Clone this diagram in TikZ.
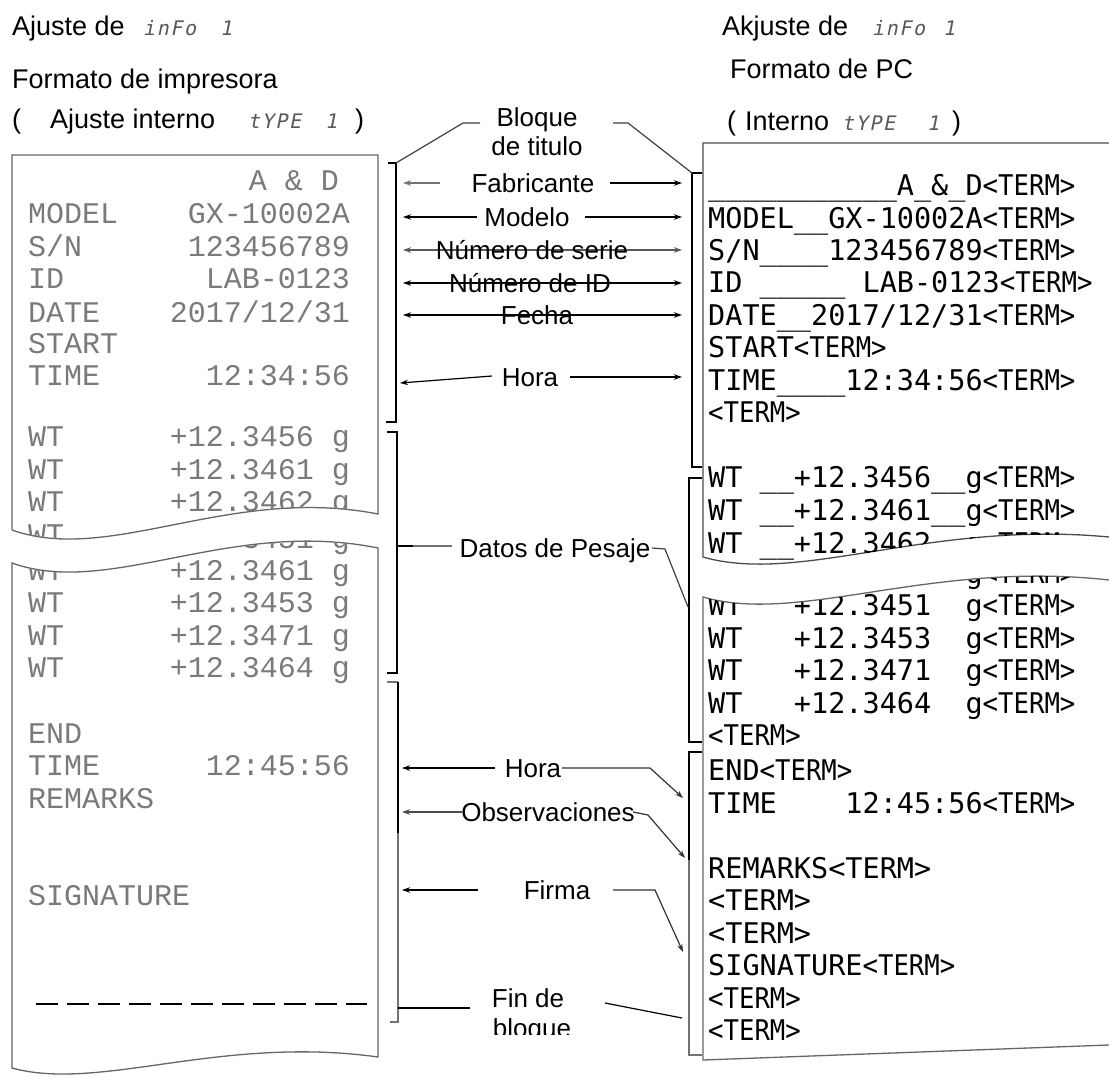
\documentclass[tikz,border=0pt]{standalone}
\usepackage{fontspec}
\usepackage{graphicx}
\setmainfont{Liberation Sans}
\newfontfamily\dotfont{Liberation Mono}
\newfontfamily\pcfont{DejaVu Sans Mono}
\newfontfamily\segfont[FakeSlant=0.2,LetterSpace=8]{DejaVu Sans Mono}
\usetikzlibrary{arrows.meta}
\newcommand{\trm}{\scalebox{0.9}[1]{<TERM>}}
\newcommand{\trmw}{<TERM>}
\tikzset{
 lbl/.style={font=\fontsize{26}{29}\selectfont, inner sep=0pt, anchor=base},
 hdr/.style={font=\fontsize{27}{30}\selectfont, inner sep=0pt, anchor=base west},
 seg/.style={font=\segfont\fontsize{20}{20}\selectfont, inner sep=0pt, anchor=base west, text=black!65},
 dm/.style={font=\dotfont\fontsize{30}{30}\selectfont, text=black!52, inner sep=0pt},
 dml/.style={dm, anchor=base west},
 dmr/.style={dm, anchor=base east},
 pc/.style={font=\pcfont\fontsize{28.5}{30}\selectfont, inner sep=0pt, anchor=base west},
 paper/.style={draw=black!60, line width=1.3pt},
 brk/.style={draw=black, line width=1.4pt},
 arr/.style={-{Stealth[length=8pt,width=5.5pt]}, line width=1.2pt},
 darr/.style={{Stealth[length=8pt,width=5.5pt]}-{Stealth[length=8pt,width=5.5pt]}, line width=1.2pt},
 lead/.style={line width=1.2pt},
}
\begin{document}
\begin{tikzpicture}[x=1pt,y=-1pt]
\useasboundingbox (0,0) rectangle (1109,1077);
\fill[white] (0,0) rectangle (1109,1077);

% ---------------- headers ----------------
\node[hdr] (h1) at (12,35) {Ajuste de};
\node[seg] (h1s) at (143,35) {inFo};
\node[seg] (h1n) at (220,35) {1};
\node[hdr] (h2) at (12,88) {Formato de impresora};
\node[hdr] (h3a) at (12,128) {(};
\node[hdr] (h3b) at (50,128) {Ajuste interno};
\node[seg] (h3c) at (248,128) {tYPE};
\node[seg] (h3d) at (325,128) {1};
\node[hdr] (h3e) at (355,128) {)};

\node[hdr] (r1) at (722,35) {Akjuste de};
\node[seg] (r1s) at (872,35) {inFo};
\node[seg] (r1n) at (943,35) {1};
\node[hdr] (r2) at (730,78) {Formato de PC};
\node[hdr] (r3a) at (727,130) {(};
\node[hdr] (r3b) at (745,130) {Interno};
\node[seg] (r3c) at (842,130) {tYPE};
\node[seg] (r3d) at (927,130) {1};
\node[hdr] (r3e) at (952,130) {)};

% ---------------- left paper ----------------
\draw[paper] (12,530) -- (12,155) -- (378,155) -- (378,514)
  .. controls (230,485) and (110,565) .. (12,530);
\draw[paper] (12,563) .. controls (110,598) and (230,518) .. (378,548)
  -- (378,1057) .. controls (220,1035) and (100,1092) .. (12,1068) -- cycle;

\begin{scope}
\clip (12,155) -- (378,155) -- (378,514) .. controls (230,485) and (110,565) .. (12,530) -- cycle;
\node[dmr] (ad) at (339,190) {A \& D};
\node[dml] (m1) at (28,223) {MODEL};   \node[dmr] (m2) at (350,223) {GX-10002A};
\node[dml] (s1) at (28,256) {S/N};     \node[dmr] (s2) at (350,256) {123456789};
\node[dml] (i1) at (28,288) {ID};      \node[dmr] (i2) at (350,288) {LAB-0123};
\node[dml] (d1) at (28,322) {DATE};    \node[dmr] (d2) at (350,322) {2017/12/31};
\node[dml] (st) at (28,353) {START};
\node[dml] (t1) at (28,385) {TIME};    \node[dmr] (t2) at (350,385) {12:34:56};
\node[dml] (w1) at (28,446) {WT};      \node[dmr] (w1v) at (350,446) {+12.3456 g};
\node[dml] (w2) at (28,479) {WT};      \node[dmr] (w2v) at (350,479) {+12.3461 g};
\node[dml] (w3) at (28,511) {WT};      \node[dmr] (w3v) at (350,511) {+12.3462 g};
\node[dml] (w4) at (28,544) {WT};
\end{scope}

\begin{scope}
\clip (12,563) .. controls (110,598) and (230,518) .. (378,548) -- (378,1057) .. controls (220,1035) and (100,1092) .. (12,1068) -- cycle;
\node[dmr] (w5v) at (350,548) {+12.3451 g};
\node[dml] (w6) at (28,580) {WT};      \node[dmr] (w6v) at (350,580) {+12.3461 g};
\node[dml] (w7) at (28,612) {WT};      \node[dmr] (w7v) at (350,612) {+12.3453 g};
\node[dml] (w8) at (28,645) {WT};      \node[dmr] (w8v) at (350,645) {+12.3471 g};
\node[dml] (w9) at (28,677) {WT};      \node[dmr] (w9v) at (350,677) {+12.3464 g};
\node[dml] (e1) at (28,743) {END};
\node[dml] (e2) at (28,775) {TIME};    \node[dmr] (e2v) at (350,775) {12:45:56};
\node[dml] (e3) at (28,808) {REMARKS};
\node[dml] (e4) at (28,905) {SIGNATURE};
\end{scope}
\coordinate (dl1) at (36,1004); \coordinate (dl2) at (367,1004);
\draw[line width=2pt, dash pattern=on 22pt off 9pt] (dl1) -- (dl2);

% ---------------- right paper ----------------
\draw[paper, draw=black!70] (1109,143) -- (703,143) -- (703,557)
  .. controls (800,585) and (930,520) .. (1109,537);
\draw[paper] (1109,580) .. controls (930,560) and (800,625) .. (703,597)
  -- (703,1060) -- (1109,1045);

\begin{scope}
\clip (703,143) -- (1109,143) -- (1109,537) .. controls (930,520) and (800,585) .. (703,557) -- cycle;
\node[pc] (p1) at (708,195) {\_\_\_\_\_\_\_\_\_\_\_A\_\&\_D\trm};
\node[pc] (p2) at (708,228) {MODEL\_\_GX-10002A\trm};
\node[pc] (p3) at (708,260) {S/N\_\_\_\_123456789\trm};
\node[pc] (p4) at (708,292) {ID\ \_\_\_\_\_\ LAB-0123\trm};
\node[pc] (p5) at (708,325) {DATE\_\_2017/12/31\trm};
\node[pc] (p6) at (708,357) {START\trm};
\node[pc] (p7) at (708,390) {TIME\_\_\_\_12:34:56\trm};
\node[pc] (p8) at (708,422) {\trm};
\node[pc] (p9) at (708,487) {WT\ \_\_+12.3456\_\_g\trm};
\node[pc] (p10) at (708,520) {WT\ \_\_+12.3461\_\_g\trm};
\node[pc] (p11) at (708,553) {WT\ \_\_+12.3462\_\_g\trm};
\end{scope}

\begin{scope}
\clip (703,597) .. controls (800,625) and (930,560) .. (1109,580) -- (1109,1045) -- (703,1060) -- cycle;
\node[pc] (q0) at (708,583) {\phantom{WT\ \ \ +12.3452\ \ }g\trm};
\node[pc] (q1) at (708,615) {WT\ \ \ +12.3451\ \ g\trm};
\node[pc] (q2) at (708,648) {WT\ \ \ +12.3453\ \ g\trm};
\node[pc] (q3) at (708,680) {WT\ \ \ +12.3471\ \ g\trm};
\node[pc] (q4) at (708,713) {WT\ \ \ +12.3464\ \ g\trm};
\node[pc] (q5) at (708,745) {\trm};
\node[pc] (q6) at (708,780) {END\trm};
\node[pc] (q7) at (708,813) {TIME\ \ \ \ 12:45:56\trm};
\node[pc] (q8) at (708,878) {REMARKS\trmw};
\node[pc] (q9) at (708,910) {\trmw};
\node[pc] (q10) at (708,943) {\trmw};
\node[pc] (q11) at (708,975) {SIGNATURE\trm};
\node[pc] (q12) at (708,1008) {\trm};
\node[pc] (q13) at (708,1040) {\trm};
\end{scope}

% ---------------- brackets ----------------
\coordinate (lb1a) at (388,163); \coordinate (lb1b) at (396,163);
\coordinate (lb1c) at (396,422); \coordinate (lb1d) at (386,422);
\draw[brk] (lb1a) -- (lb1b) -- (lb1c) -- (lb1d);
\coordinate (lb2a) at (387,432); \coordinate (lb2b) at (397,432);
\coordinate (lb2c) at (397,673); \coordinate (lb2d) at (387,673);
\draw[brk] (lb2a) -- (lb2b) -- (lb2c) -- (lb2d);
\coordinate (lb3a) at (387,682); \coordinate (lb3b) at (398,682);
\coordinate (lb3m) at (398,833);
\coordinate (lb3c) at (398,1022); \coordinate (lb3d) at (390,1022);
\draw[brk, draw=black!55] (lb3a) -- (lb3b);
\draw[brk] (lb3b) -- (lb3m);
\draw[brk, draw=black!55] (lb3m) -- (lb3c) -- (lb3d);

\coordinate (rb1a) at (702,173); \coordinate (rb1b) at (692,173);
\coordinate (rb1c) at (692,467); \coordinate (rb1d) at (702,467);
\draw[brk] (rb1a) -- (rb1b) -- (rb1c) -- (rb1d);
\coordinate (rb2a) at (702,478); \coordinate (rb2b) at (689,478);
\coordinate (rb2c) at (689,742); \coordinate (rb2d) at (702,742);
\draw[brk] (rb2a) -- (rb2b) -- (rb2c) -- (rb2d);
\coordinate (rb3a) at (702,752); \coordinate (rb3b) at (689,752);
\coordinate (rb3m) at (689,860);
\coordinate (rb3c) at (689,1055); \coordinate (rb3d) at (702,1055);
\draw[brk] (rb3a) -- (rb3b) -- (rb3m);
\draw[brk, draw=black!55] (rb3m) -- (rb3c) -- (rb3d);

% ---------------- labels: title block ----------------
\node[lbl] (blq1) at (537,126) {Bloque};
\node[lbl] (blq2) at (537,155) {de titulo};
\coordinate (bl1) at (480,123); \coordinate (bl2) at (463,123);
\coordinate (br1) at (613,123); \coordinate (br2) at (628,123);
\draw[lead, draw=black!75] (bl1) -- (bl2) -- (lb1b);
\draw[lead, draw=black!75] (br1) -- (br2) -- (rb1b);

% Fabricante
\coordinate (fa1) at (440,183); \coordinate (fa2) at (403,183);
\coordinate (fa3) at (610,183); \coordinate (fa4) at (682,183);
\draw[arr, draw=black!55, fill=black!55] (fa1) -- (fa2);
\draw[arr] (fa3) -- (fa4);
\node[lbl] (fab) at (533,192) {Fabricante};
% Modelo
\coordinate (mo1) at (477,217); \coordinate (mo2) at (403,217);
\coordinate (mo3) at (585,217); \coordinate (mo4) at (682,217);
\draw[arr] (mo1) -- (mo2);
\draw[arr] (mo3) -- (mo4);
\node[lbl] (mod) at (527,226) {Modelo};
% Numero de serie
\coordinate (ns1) at (403,250); \coordinate (ns2) at (682,250);
\draw[darr, draw=black!65, fill=black!65] (ns1) -- (ns2);
\node[lbl] (nse) at (532,259) {Número de serie};
% Numero de ID
\coordinate (ni1) at (403,283); \coordinate (ni2) at (682,283);
\draw[darr] (ni1) -- (ni2);
\node[lbl] (nid) at (530,292) {Número de ID};
% Fecha
\coordinate (fe1) at (403,315); \coordinate (fe2) at (682,315);
\draw[darr] (fe1) -- (fe2);
\node[lbl] (fec) at (537,324) {Fecha};
% Hora (start)
\coordinate (ho1) at (492,376); \coordinate (ho2) at (400,383);
\coordinate (ho3) at (570,377); \coordinate (ho4) at (682,377);
\draw[arr] (ho1) -- (ho2);
\draw[arr] (ho3) -- (ho4);
\node[lbl] (hor) at (530,386) {Hora};

% Datos de Pesaje
\coordinate (dp0) at (397,546); \coordinate (dpm) at (413,546); \coordinate (dp1) at (452,546);
\coordinate (dp2) at (652,548); \coordinate (dp3) at (665,549); \coordinate (dp4) at (688,607);
\draw[lead] (dp0) -- (dpm);
\draw[lead, draw=black!55] (dpm) -- (dp1);
\draw[lead, draw=black!75] (dp2) -- (dp3) -- (dp4);
\node[lbl] (dat) at (555,557) {Datos de Pesaje};

% Hora (end)
\coordinate (he1) at (495,768); \coordinate (he2) at (402,768);
\coordinate (he3) at (562,768); \coordinate (he4) at (650,768); \coordinate (he5) at (683,798);
\draw[arr] (he1) -- (he2);
\draw[arr, draw=black!80] (he3) -- (he4) -- (he5);
\node[lbl] (hoe) at (533,777) {Hora};
% Observaciones
\coordinate (ob1) at (462,812); \coordinate (ob2) at (402,812);
\coordinate (ob3) at (633,812); \coordinate (ob4) at (648,815); \coordinate (ob5) at (685,858);
\draw[arr, draw=black!70] (ob1) -- (ob2);
\draw[arr, draw=black!80] (ob3) -- (ob4) -- (ob5);
\node[lbl] (obs) at (548,821) {Observaciones};
% Firma
\coordinate (fi1) at (478,890); \coordinate (fi2) at (402,890);
\coordinate (fi3) at (613,890); \coordinate (fi4) at (655,890); \coordinate (fi5) at (683,952);
\draw[arr] (fi1) -- (fi2);
\draw[arr, draw=black!80] (fi3) -- (fi4) -- (fi5);
\node[lbl] (fir) at (557,899) {Firma};
% Fin de bloque
\coordinate (fb1) at (470,1008); \coordinate (fb2) at (398,1008);
\coordinate (fb3) at (605,1003); \coordinate (fb4) at (682,1018);
\draw[lead] (fb1) -- (fb2);
\draw[lead] (fb3) -- (fb4);
\node[lbl] (fin1) at (528,1007) {Fin de};
\begin{scope}
\clip (480,1010) rectangle (590,1034);
\node[lbl] (fin2) at (532,1037) {bloque};
\end{scope}
\end{tikzpicture}
\end{document}
